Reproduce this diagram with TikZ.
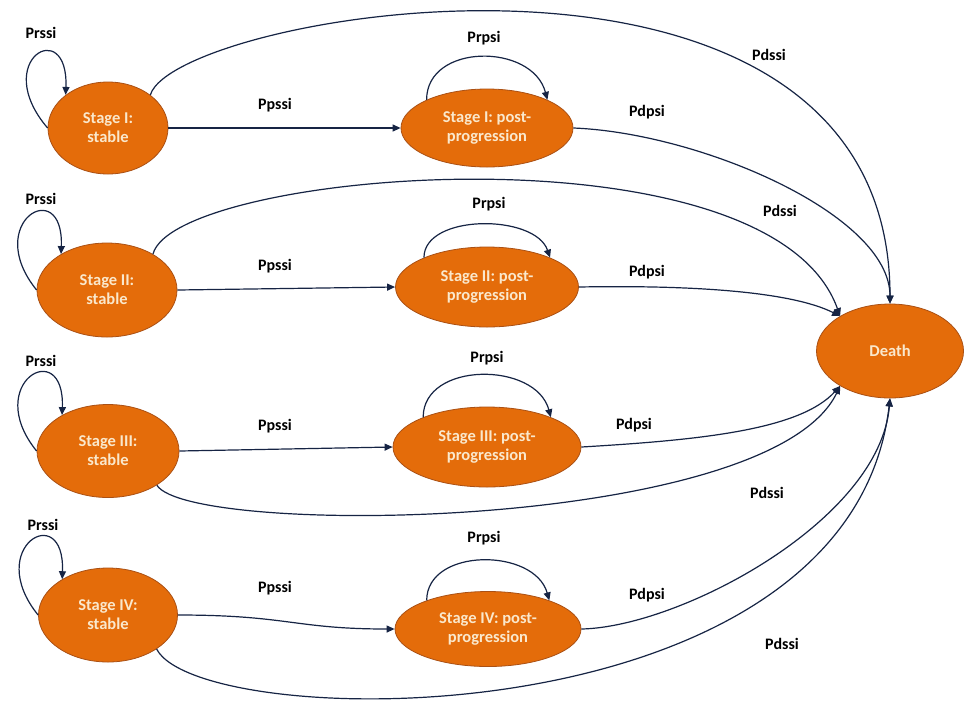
\documentclass[tikz,border=0pt]{standalone}
\usepackage{fontspec}
\setmainfont{Carlito}
\usetikzlibrary{shapes.geometric,arrows.meta}
\definecolor{markovcolor0001}{RGB}{228,108,10}
\definecolor{markovcolor0002}{RGB}{170,80,20}
\definecolor{markovcolor0003}{RGB}{250,232,204}
\definecolor{markovcolor0004}{RGB}{22,36,68}
\begin{document}
\begin{tikzpicture}[yscale=-1
,mstyle0/.style={ellipse,draw=markovcolor0002,fill=markovcolor0001,line width=0.8pt,inner sep=0,align=center,text=markovcolor0003,font=\fontsize{16.5pt}{19pt}\selectfont\bfseries}
,mstyle1/.style={color=markovcolor0004,line width=1.2pt,-{Triangle[length=8pt,width=7pt]}}
,mstyle2/.style={color=black,inner sep=0,font=\fontsize{16pt}{19pt}\selectfont\bfseries}
]
\fill[white] (0pt,0pt) rectangle (968pt,705pt);
\useasboundingbox (0pt,0pt) rectangle (968pt,705pt);
\node[mstyle0,minimum width=120pt,minimum height=92pt] (s1) at (108pt,128pt) {Stage I:\\stable};
\node[mstyle0,minimum width=140pt,minimum height=94pt] (s2) at (107pt,290pt) {Stage II:\\stable};
\node[mstyle0,minimum width=142pt,minimum height=93pt] (s3) at (108pt,451pt) {Stage III:\\stable};
\node[mstyle0,minimum width=139pt,minimum height=94pt] (s4) at (108pt,615pt) {Stage IV:\\stable};
\node[mstyle0,minimum width=172pt,minimum height=78pt] (p1) at (487pt,128pt) {Stage I: post-\\progression};
\node[mstyle0,minimum width=183pt,minimum height=80pt] (p2) at (487pt,287pt) {Stage II: post-\\progression};
\node[mstyle0,minimum width=188pt,minimum height=80pt] (p3) at (487pt,447pt) {Stage III: post-\\progression};
\node[mstyle0,minimum width=186pt,minimum height=75pt] (p4) at (488pt,629pt) {Stage IV: post-\\progression};
\node[mstyle0,minimum width=147pt,minimum height=94pt] (death) at (890pt,351pt) {Death};
\draw[mstyle1] (s1.west) .. controls +(-58pt,-68pt) and +(3pt,-80pt) .. (s1.142);
\draw[mstyle1] (s2.west) .. controls +(-55pt,-68pt) and +(3pt,-80pt) .. (s2.142);
\draw[mstyle1] (s3.west) .. controls +(-55pt,-68pt) and +(3pt,-80pt) .. (s3.142);
\draw[mstyle1] (s4.west) .. controls +(-55pt,-68pt) and +(3pt,-80pt) .. (s4.142);
\draw[mstyle1] (p1.155) .. controls +(0pt,-57pt) and +(-15pt,-57pt) .. (p1.25);
\draw[mstyle1] (p2.155) .. controls +(0pt,-44pt) and +(-15pt,-44pt) .. (p2.25);
\draw[mstyle1] (p3.155) .. controls +(0pt,-56pt) and +(-15pt,-56pt) .. (p3.25);
\draw[mstyle1] (p4.155) .. controls +(0pt,-53pt) and +(-15pt,-53pt) .. (p4.25);
\draw[mstyle1] (s1.east) -- (p1.west);
\draw[mstyle1] (s2.east) -- (p2.west);
\draw[mstyle1] (s3.east) -- (p3.west);
\draw[mstyle1] (s4.east) .. controls +(110pt,0pt) and +(-100pt,0pt) .. (p4.west);
\draw[mstyle1] (s1.38) .. controls +(25pt,-83pt) and +(0pt,-414pt) .. (death.north);
\draw[mstyle1] (p1.east) .. controls +(127pt,5pt) and +(0pt,-89pt) .. (death.north);
\draw[mstyle1] (s2.38) .. controls +(22pt,-84pt) and +(-70pt,-196pt) .. (death.145);
\draw[mstyle1] (p2.east) .. controls +(110pt,-2pt) and +(-50pt,-25pt) .. (death.145);
\draw[mstyle1] (p3.east) .. controls +(119pt,-7pt) and +(-40pt,44pt) .. (death.215);
\draw[mstyle1] (s3.-35) .. controls +(33pt,52pt) and +(-70pt,146pt) .. (death.215);
\draw[mstyle1] (p4.east) .. controls +(99pt,-2pt) and +(-10pt,122pt) .. (death.south);
\draw[mstyle1] (s4.-35) .. controls +(44pt,85pt) and +(-40pt,345pt) .. (death.south);
\node[mstyle2] (rs1) at (41pt,33pt) {Prssi};
\node[mstyle2] (rs2) at (41pt,199pt) {Prssi};
\node[mstyle2] (rs3) at (41pt,361pt) {Prssi};
\node[mstyle2] (rs4) at (43pt,525pt) {Prssi};
\node[mstyle2] (ps1) at (275pt,105pt) {Ppssi};
\node[mstyle2] (ps2) at (275pt,266pt) {Ppssi};
\node[mstyle2] (ps3) at (275pt,426pt) {Ppssi};
\node[mstyle2] (ps4) at (275pt,588pt) {Ppssi};
\node[mstyle2] (rp1) at (484pt,38pt) {Prpsi};
\node[mstyle2] (rp2) at (489pt,204pt) {Prpsi};
\node[mstyle2] (rp3) at (487pt,358pt) {Prpsi};
\node[mstyle2] (rp4) at (484pt,538pt) {Prpsi};
\node[mstyle2] (dp1) at (647pt,112pt) {Pdpsi};
\node[mstyle2] (dp2) at (647pt,272pt) {Pdpsi};
\node[mstyle2] (dp3) at (634pt,425pt) {Pdpsi};
\node[mstyle2] (dp4) at (647pt,595pt) {Pdpsi};
\node[mstyle2] (ds1) at (769pt,55pt) {Pdssi};
\node[mstyle2] (ds2) at (780pt,211pt) {Pdssi};
\node[mstyle2] (ds3) at (767pt,493pt) {Pdssi};
\node[mstyle2] (ds4) at (782pt,644pt) {Pdssi};
\end{tikzpicture}
\end{document}
